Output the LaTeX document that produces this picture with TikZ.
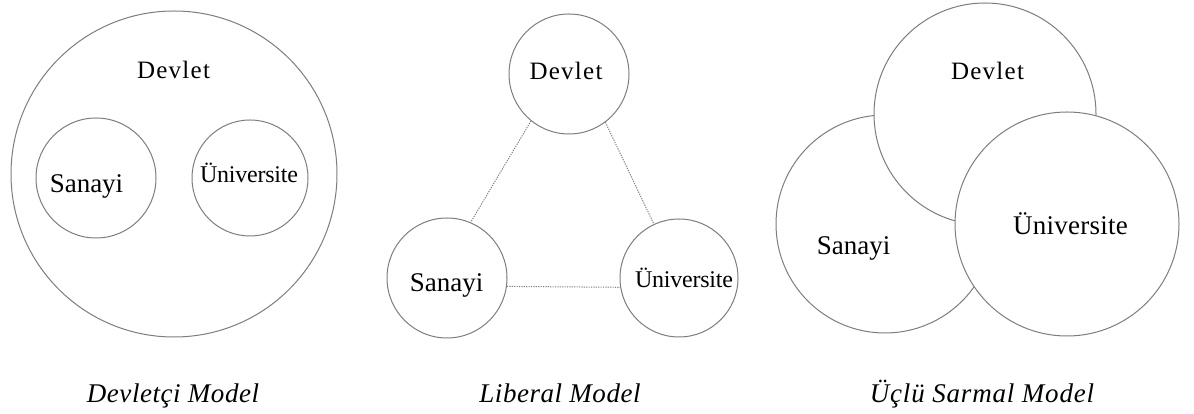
\documentclass[tikz,border=0pt]{standalone}
\usepackage{fontspec}
\setmainfont{Liberation Serif}
\newcommand{\lblfont}[2]{\fontsize{#1}{#1}\selectfont\addfontfeatures{LetterSpace=#2}}
\begin{document}
\begin{tikzpicture}[x=1pt,y=1pt,
  ring/.style={circle,draw={rgb,255:red,125;green,125;blue,125},line width=1pt,fill=white,inner sep=0pt},
  lbl/.style={anchor=base,inner sep=0pt},
  dv/.style={lbl,font=\lblfont{25}{5}},
  sn/.style={lbl,font=\lblfont{27}{0}},
  un/.style={lbl,font=\lblfont{24}{-1}},
  mcap/.style={anchor=base,inner sep=0pt,font=\fontsize{27}{27}\selectfont\itshape\addfontfeatures{LetterSpace=2}},
  link/.style={draw={rgb,255:red,125;green,125;blue,125},line width=1pt,dash pattern=on 1.2pt off 1.2pt}]
\useasboundingbox (0,0) rectangle (1194,414);
% y_tikz = 414 - y_px
% Devletci model
\node[ring,minimum size=326pt] (bigD) at (174,240) {};
\node[ring,minimum size=120pt] (lS) at (96,236) {};
\node[ring,minimum size=116pt] (lU) at (250,236) {};
\node[dv] (tbD) at (173.5,335) {Devlet};
\node[sn] (tlS) at (86.5,221) {Sanayi};
\node[un] (tlU) at (249,231) {Üniversite};
\node[mcap] (c1) at (173,11) {Devletçi Model};
% Liberal model
\node[ring,minimum size=120pt] (mD) at (569,340) {};
\node[ring,minimum size=120pt] (mS) at (447,136) {};
\node[ring,minimum size=118pt] (mU) at (679,136) {};
\node[dv] (tmD) at (566,334) {Devlet};
\node[sn] (tmS) at (446.5,122) {Sanayi};
\node[un] (tmU) at (684,126) {Üniversite};
\draw[link] (mD.231) -- (mS.67);
\draw[link] (mD.307) -- (mU.115);
\draw[link] (mS.-8) -- (mU.189);
\node[mcap] (c2) at (560,11) {Liberal Model};
% Uclu sarmal model
\node[ring,minimum size=218pt] (rS) at (885,190) {};
\node[ring,minimum size=222pt] (rD) at (985,300) {};
\node[ring,minimum size=224pt] (rU) at (1067,190) {};
\node[dv] (trD) at (987.5,334) {Devlet};
\node[sn] (trS) at (853.5,159) {Sanayi};
\node[lbl,font=\lblfont{27}{1}] (trU) at (1070.5,179) {Üniversite};
\node[mcap,font=\fontsize{27}{27}\selectfont\itshape\addfontfeatures{LetterSpace=3}] (c3) at (982,11) {Üçlü Sarmal Model};
\end{tikzpicture}
\end{document}
